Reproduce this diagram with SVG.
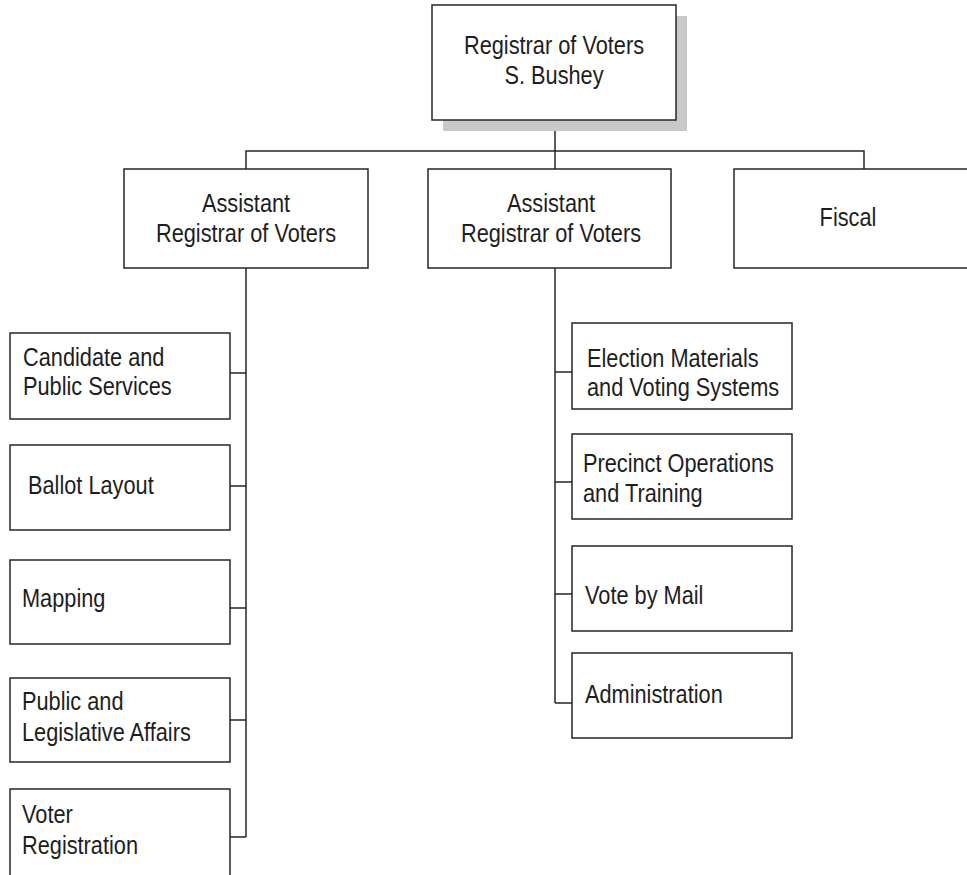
<svg xmlns="http://www.w3.org/2000/svg" width="967" height="875" viewBox="0 0 967 875">
  <style>
    .box { fill: #ffffff; stroke: #262626; stroke-width: 1.5; }
    .shadow { fill: #c9c9c9; stroke: none; }
    .link { fill: none; stroke: #262626; stroke-width: 1.5; }
    .lbl { font-family: "Liberation Sans", Arial, Helvetica, sans-serif; font-size: 25px; fill: #1e1e1e; }
    .mid { text-anchor: middle; }
  </style>
  <rect width="967" height="875" fill="#ffffff"/>

  <!-- connectors -->
  <g id="connectors">
    <path class="link" d="M555 120 V169 M246 169 V151 H864 V169"/>
    <path class="link" d="M246 268 V837 M230 373 H246 M230 486 H246 M230 608 H246 M230 720 H246 M230 837 H246"/>
    <path class="link" d="M555 268 V703 M555 372 H572 M555 482 H572 M555 594 H572 M555 703 H572"/>
  </g>

  <!-- head of the office -->
  <g id="registrar">
    <rect class="shadow" x="443" y="16" width="244" height="115"/>
    <rect class="box" x="432" y="5" width="244" height="115"/>
    <g transform="translate(554 0) scale(0.87 1)">
      <text class="lbl mid" x="0" y="54">Registrar of Voters</text>
      <text class="lbl mid" x="0" y="84">S. Bushey</text>
    </g>
  </g>

  <g id="assistant-left">
    <rect class="box" x="124" y="169" width="244" height="99"/>
    <g transform="translate(246 0) scale(0.87 1)">
      <text class="lbl mid" x="0" y="212">Assistant</text>
      <text class="lbl mid" x="0" y="242">Registrar of Voters</text>
    </g>
  </g>

  <g id="assistant-right">
    <rect class="box" x="428" y="169" width="243" height="99"/>
    <g transform="translate(551 0) scale(0.87 1)">
      <text class="lbl mid" x="0" y="212">Assistant</text>
      <text class="lbl mid" x="0" y="242">Registrar of Voters</text>
    </g>
  </g>

  <g id="fiscal">
    <rect class="box" x="734" y="169" width="244" height="99"/>
    <g transform="translate(848 0) scale(0.87 1)">
      <text class="lbl mid" x="0" y="226">Fiscal</text>
    </g>
  </g>

  <!-- units under the first assistant -->
  <g id="candidate-services">
    <rect class="box" x="10" y="333" width="220" height="86"/>
    <g transform="translate(23 0) scale(0.87 1)">
      <text class="lbl" x="0" y="366">Candidate and</text>
      <text class="lbl" x="0" y="395">Public Services</text>
    </g>
  </g>

  <g id="ballot-layout">
    <rect class="box" x="10" y="445" width="220" height="85"/>
    <g transform="translate(28 0) scale(0.87 1)">
      <text class="lbl" x="0" y="494">Ballot Layout</text>
    </g>
  </g>

  <g id="mapping">
    <rect class="box" x="10" y="560" width="220" height="84"/>
    <g transform="translate(22 0) scale(0.87 1)">
      <text class="lbl" x="0" y="607">Mapping</text>
    </g>
  </g>

  <g id="legislative-affairs">
    <rect class="box" x="10" y="678" width="220" height="84"/>
    <g transform="translate(22 0) scale(0.87 1)">
      <text class="lbl" x="0" y="710">Public and</text>
      <text class="lbl" x="0" y="741">Legislative Affairs</text>
    </g>
  </g>

  <g id="voter-registration">
    <rect class="box" x="10" y="789" width="220" height="90"/>
    <g transform="translate(22 0) scale(0.87 1)">
      <text class="lbl" x="0" y="823">Voter</text>
      <text class="lbl" x="0" y="854">Registration</text>
    </g>
  </g>

  <!-- units under the second assistant -->
  <g id="election-materials">
    <rect class="box" x="572" y="323" width="220" height="86"/>
    <g transform="translate(587 0) scale(0.87 1)">
      <text class="lbl" x="0" y="367">Election Materials</text>
      <text class="lbl" x="0" y="396">and Voting Systems</text>
    </g>
  </g>

  <g id="precinct-operations">
    <rect class="box" x="572" y="434" width="220" height="85"/>
    <g transform="translate(583 0) scale(0.87 1)">
      <text class="lbl" x="0" y="472">Precinct Operations</text>
      <text class="lbl" x="0" y="502">and Training</text>
    </g>
  </g>

  <g id="vote-by-mail">
    <rect class="box" x="572" y="546" width="220" height="85"/>
    <g transform="translate(585 0) scale(0.87 1)">
      <text class="lbl" x="0" y="604">Vote by Mail</text>
    </g>
  </g>

  <g id="administration">
    <rect class="box" x="572" y="653" width="220" height="85"/>
    <g transform="translate(585 0) scale(0.87 1)">
      <text class="lbl" x="0" y="703">Administration</text>
    </g>
  </g>
</svg>
